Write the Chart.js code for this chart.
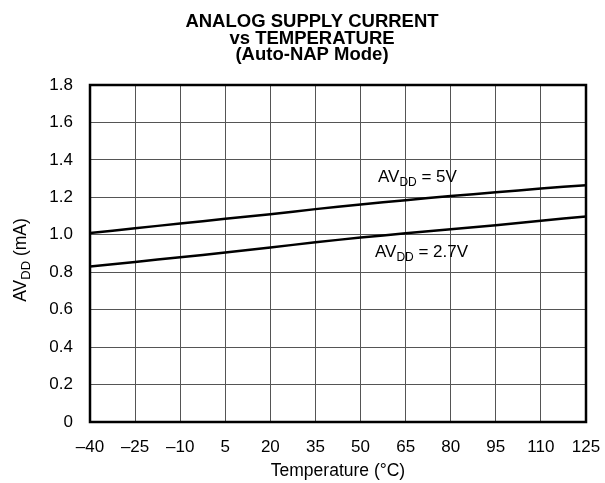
<!DOCTYPE html>
<html>
<head>
<meta charset="utf-8">
<script src="https://cdn.jsdelivr.net/npm/chart.js@4"></script>
<style>
  body { margin: 0; background: #fff; }
  #wrap { width: 605px; height: 483px; }
</style>
</head>
<body>
<div id="wrap"><canvas id="chart"></canvas></div>
<script>
var temps = [-40, -25, -10, 5, 20, 35, 50, 65, 80, 95, 110, 125];
var avdd5 = [1.009, 1.035, 1.06, 1.085, 1.11, 1.137, 1.162, 1.185, 1.207, 1.227, 1.247, 1.265];
var avdd27 = [0.83, 0.855, 0.88, 0.905, 0.932, 0.96, 0.985, 1.008, 1.03, 1.051, 1.075, 1.098];
var xTicks = [-40, -25, -10, 5, 20, 35, 50, 65, 80, 95, 110, 125];
var yTicks = [0, 0.2, 0.4, 0.6, 0.8, 1.0, 1.2, 1.4, 1.6, 1.8];
var titleLines = ['ANALOG SUPPLY CURRENT', 'vs TEMPERATURE', '(Auto-NAP Mode)'];

var fam = '"Liberation Sans", Arial, Helvetica, sans-serif';

function pts(ys) {
	return temps.map(function (t, i) { return { x: t, y: ys[i] }; });
}

// text with a subscript part: [normal, sub, normal]
function subText(ctx, parts, x, y, size, align) {
	var sub = Math.round(size * 0.72);
	ctx.font = size + 'px ' + fam;
	var w0 = ctx.measureText(parts[0]).width;
	ctx.font = sub + 'px ' + fam;
	var w1 = ctx.measureText(parts[1]).width;
	ctx.font = size + 'px ' + fam;
	var w2 = ctx.measureText(parts[2]).width;
	var total = w0 + w1 + w2;
	var sx = align === 'center' ? x - total / 2 : x;
	ctx.textAlign = 'left';
	ctx.textBaseline = 'alphabetic';
	ctx.fillText(parts[0], sx, y);
	ctx.font = sub + 'px ' + fam;
	ctx.fillText(parts[1], sx + w0, y + size * 0.26);
	ctx.font = size + 'px ' + fam;
	ctx.fillText(parts[2], sx + w0 + w1, y);
}

var extras = {
	id: 'extras',
	afterDraw: function (chart) {
		var ctx = chart.ctx;
		var a = chart.chartArea;
		var xs = chart.scales.x, ys = chart.scales.y;
		ctx.save();
		// frame
		ctx.strokeStyle = '#000';
		ctx.lineWidth = 2.5;
		ctx.strokeRect(a.left, a.top, a.right - a.left, a.bottom - a.top);
		ctx.fillStyle = '#000';
		// title
		ctx.font = 'bold 18.5px ' + fam;
		ctx.textAlign = 'center';
		ctx.textBaseline = 'alphabetic';
		for (var i = 0; i < titleLines.length; i++) {
			ctx.fillText(titleLines[i], 312, 27 + i * 16.6);
		}
		// curve labels
		subText(ctx, ['AV', 'DD', ' = 5V'], xs.getPixelForValue(55.8), ys.getPixelForValue(1.282), 17, 'left');
		subText(ctx, ['AV', 'DD', ' = 2.7V'], xs.getPixelForValue(54.8), ys.getPixelForValue(0.881), 17, 'left');
		// y axis title
		ctx.translate(25.5, 260);
		ctx.rotate(-Math.PI / 2);
		subText(ctx, ['AV', 'DD', ' (mA)'], 0, 0, 17.5, 'center');
		ctx.restore();
	}
};

var ctx = document.getElementById('chart').getContext('2d');
var chart = new Chart(ctx, {
	type: 'scatter',
	data: {
		datasets: [
			{ data: pts(avdd5), showLine: true, borderColor: '#000', borderWidth: 2.5, pointRadius: 0, tension: 0.3 },
			{ data: pts(avdd27), showLine: true, borderColor: '#000', borderWidth: 2.5, pointRadius: 0, tension: 0.3 }
		]
	},
	options: {
		responsive: true,
		maintainAspectRatio: false,
		animation: false,
		layout: { padding: { left: 0, right: 19, top: 85, bottom: 0 } },
		plugins: { legend: { display: false }, tooltip: { enabled: false } },
		scales: {
			x: {
				type: 'linear',
				min: -40, max: 125,
				afterBuildTicks: function (s) { s.ticks = xTicks.map(function (v) { return { value: v }; }); },
				afterFit: function (s) { s.height = 61; s.paddingLeft = 0; s.paddingRight = 0; },
				ticks: {
					color: '#000', font: { family: fam, size: 17 }, padding: 15, maxRotation: 0, autoSkip: false,
					callback: function (v) { return v < 0 ? '\u2013' + Math.abs(v) : String(v); }
				},
				grid: { color: '#555', lineWidth: 1, drawTicks: false },
				border: { display: false },
				title: { display: true, text: 'Temperature (\u00b0C)', color: '#000', font: { family: fam, size: 17.5 }, padding: { top: 2, bottom: 1 } }
			},
			y: {
				min: 0, max: 1.8,
				afterBuildTicks: function (s) { s.ticks = yTicks.map(function (v) { return { value: v }; }); },
				afterFit: function (s) { s.width = 90; s.paddingTop = 0; s.paddingBottom = 0; },
				ticks: {
					color: '#000', font: { family: fam, size: 17 }, padding: 17, autoSkip: false,
					callback: function (v) { return v === 0 ? '0' : v.toFixed(1); }
				},
				grid: { color: '#555', lineWidth: 1, drawTicks: false },
				border: { display: false }
			}
		}
	},
	plugins: [extras]
});
</script>
</body>
</html>
